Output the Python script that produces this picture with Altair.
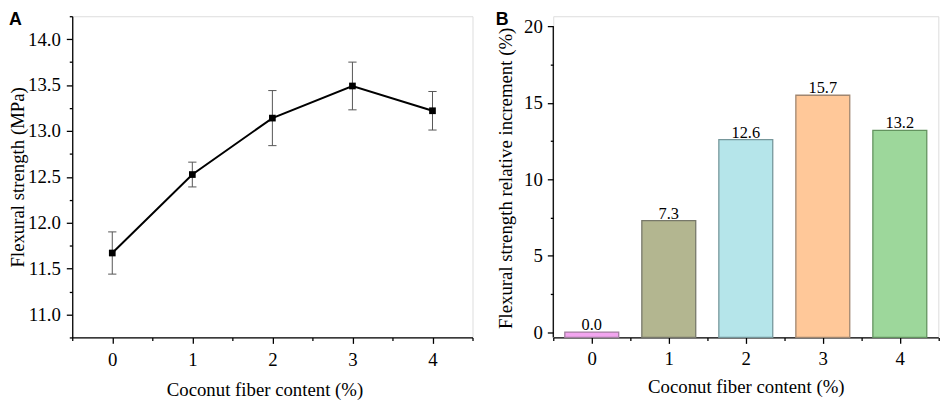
import altair as alt
import pandas as pd

SERIF = "Liberation Serif"
SANS = "Liberation Sans"

# ---- data ----
content = [0, 1, 2, 3, 4]
strength = [11.67, 12.525, 13.14, 13.49, 13.22]
strength_lo = [11.44, 12.39, 12.84, 13.23, 13.01]
strength_hi = [11.90, 12.66, 13.44, 13.75, 13.43]

increment = [0.0, 7.3, 12.6, 15.5, 13.2]
increment_labels = ["0.0", "7.3", "12.6", "15.7", "13.2"]
bar_keys = ["c0", "c1", "c2", "c3", "c4"]
bar_fills = ["#F2A5EF", "#B3B690", "#B5E5EA", "#FFC899", "#9DD79B"]
bar_strokes = ["#A27FA0", "#77786A", "#76979B", "#A08670", "#63935F"]

x_major = [0, 1, 2, 3, 4]
x_minor = [-0.5, 0.5, 1.5, 2.5, 3.5, 4.5]
ya_major = [11.0, 11.5, 12.0, 12.5, 13.0, 13.5, 14.0]
ya_minor = [10.75, 11.25, 11.75, 12.25, 12.75, 13.25, 13.75, 14.25]
yb_major = [0, 5, 10, 15, 20]
yb_minor = [2.5, 7.5, 12.5, 17.5]
yb_axis_span = [-0.35, 20]

dfa = pd.DataFrame({"x": content, "y": strength, "lo": strength_lo, "hi": strength_hi})
dfb = pd.DataFrame({"x": content, "inc": increment, "lab": increment_labels, "k": bar_keys})

FS = 19
common = dict(domainColor="black", domainWidth=1.3, tickColor="black", tickWidth=1.3,
              labelColor="black", titleColor="black", grid=False,
              labelFont=SERIF, titleFont=SERIF, labelFontSize=FS, titleFontSize=FS,
              titleFontWeight="normal")

def minor_axis(orient, values):
    return alt.Axis(orient=orient, values=values, labels=False, tickSize=3, domain=False,
                    title=None, tickColor="black", tickWidth=1.3, grid=False)

# ---------------- Panel A ----------------
WA, HA = 405, 325
sx_a = alt.Scale(domain=[-0.5, 4.5], nice=False, zero=False)
sy_a = alt.Scale(domain=[10.75, 14.25], nice=False, zero=False)

ax_a_x = alt.Axis(orient="bottom", values=x_major, format="d", tickSize=6, labelPadding=7.5,
                  title="Coconut fiber content (%)", titleY=43.6, titleX=194.5,
                  titleBaseline="top", **common)
ax_a_y = alt.Axis(orient="left", values=ya_major, format=".1f", tickSize=6, labelPadding=6,
                  title="Flexural strength (MPa)", titleX=-64, titleBaseline="top", **common)

base_a = alt.Chart(dfa)
err_a = base_a.mark_rule(color="#555555", strokeWidth=1).encode(
    x=alt.X("x:Q", scale=sx_a, axis=ax_a_x),
    y=alt.Y("lo:Q", scale=sy_a, axis=ax_a_y),
    y2="hi:Q",
)
cap_lo = base_a.mark_point(shape="M-1,0L1,0", size=70, filled=False, color="#555555",
                           strokeWidth=1, opacity=1).encode(
    x=alt.X("x:Q", scale=sx_a, axis=minor_axis("bottom", x_minor)),
    y=alt.Y("lo:Q", scale=sy_a, axis=minor_axis("left", ya_minor)),
)
cap_hi = base_a.mark_point(shape="M-1,0L1,0", size=70, filled=False, color="#555555",
                           strokeWidth=1, opacity=1).encode(
    x=alt.X("x:Q", scale=sx_a, axis=None),
    y=alt.Y("hi:Q", scale=sy_a, axis=None),
)
line_a = base_a.mark_line(color="black", strokeWidth=2).encode(
    x=alt.X("x:Q", scale=sx_a, axis=None),
    y=alt.Y("y:Q", scale=sy_a, axis=None),
)
pts_a = base_a.mark_point(shape="square", filled=True, size=46, color="black", opacity=1).encode(
    x=alt.X("x:Q", scale=sx_a, axis=None),
    y=alt.Y("y:Q", scale=sy_a, axis=None),
)
lab_a = alt.Chart(pd.DataFrame({"t": ["A"]})).mark_text(
    align="left", baseline="top", font=SANS, fontSize=18, fontWeight="bold", color="black"
).encode(text="t:N", x=alt.value(-64), y=alt.value(-5))

panel_a = alt.layer(err_a, cap_lo, cap_hi, line_a, pts_a, lab_a).resolve_axis(
    x="independent", y="independent").properties(width=WA, height=HA)

# ---------------- Panel B ----------------
WB, HB = 389.6, 325
sx_b = alt.Scale(domain=[-0.5, 4.5], nice=False, zero=False)
sy_b = alt.Scale(domain=[-0.35, 20.67], nice=False, zero=False)

ax_b_x = alt.Axis(orient="bottom", values=x_major, format="d", tickSize=6, labelPadding=6.5,
                  title="Coconut fiber content (%)", titleY=40.6, titleBaseline="top", **common)
ax_b_y = alt.Axis(orient="left", values=yb_major, format="d", tickSize=6, labelPadding=5,
                  title="Flexural strength relative increment (%)", titleX=-57.4, titleY=163.5,
                  titleBaseline="top", **{**common, "domain": False})

base_b = alt.Chart(dfb).transform_calculate(x0="datum.x - 0.35", x1="datum.x + 0.35")
bars_b = base_b.mark_bar(strokeWidth=1.3).encode(
    x=alt.X("x0:Q", scale=sx_b, axis=ax_b_x),
    x2="x1:Q",
    y=alt.Y("inc:Q", scale=sy_b, axis=ax_b_y),
    y2=alt.datum(-0.35),
    fill=alt.Fill("k:N", scale=alt.Scale(domain=bar_keys, range=bar_fills), legend=None),
    stroke=alt.Stroke("k:N", scale=alt.Scale(domain=bar_keys, range=bar_strokes), legend=None),
)
text_b = base_b.mark_text(baseline="alphabetic", dy=-2, font=SERIF, fontSize=16.5,
                          color="black").encode(
    x=alt.X("x:Q", scale=sx_b, axis=minor_axis("bottom", x_minor)),
    y=alt.Y("inc:Q", scale=sy_b, axis=minor_axis("left", yb_minor)),
    text="lab:N",
)
axis_line_b = alt.Chart(pd.DataFrame({"lo": [yb_axis_span[0]], "hi": [yb_axis_span[1]]})).mark_rule(
    color="black", strokeWidth=1.3).encode(
    x=alt.X(datum=-0.5, scale=sx_b, axis=None),
    y=alt.Y("lo:Q", scale=sy_b, axis=None),
    y2="hi:Q",
)
lab_b = alt.Chart(pd.DataFrame({"t": ["B"]})).mark_text(
    align="left", baseline="top", font=SANS, fontSize=18, fontWeight="bold", color="black"
).encode(text="t:N", x=alt.value(-58.3), y=alt.value(-5))

panel_b = alt.layer(bars_b, text_b, axis_line_b, lab_b).resolve_axis(
    x="independent", y="independent").properties(width=WB, height=HB)

chart = alt.hconcat(panel_a, panel_b, spacing=20.7).properties(padding=0).configure_view(
    stroke=None).configure(background="white")

chart.save("out.html", embed_options={"renderer": "svg", "actions": False})
